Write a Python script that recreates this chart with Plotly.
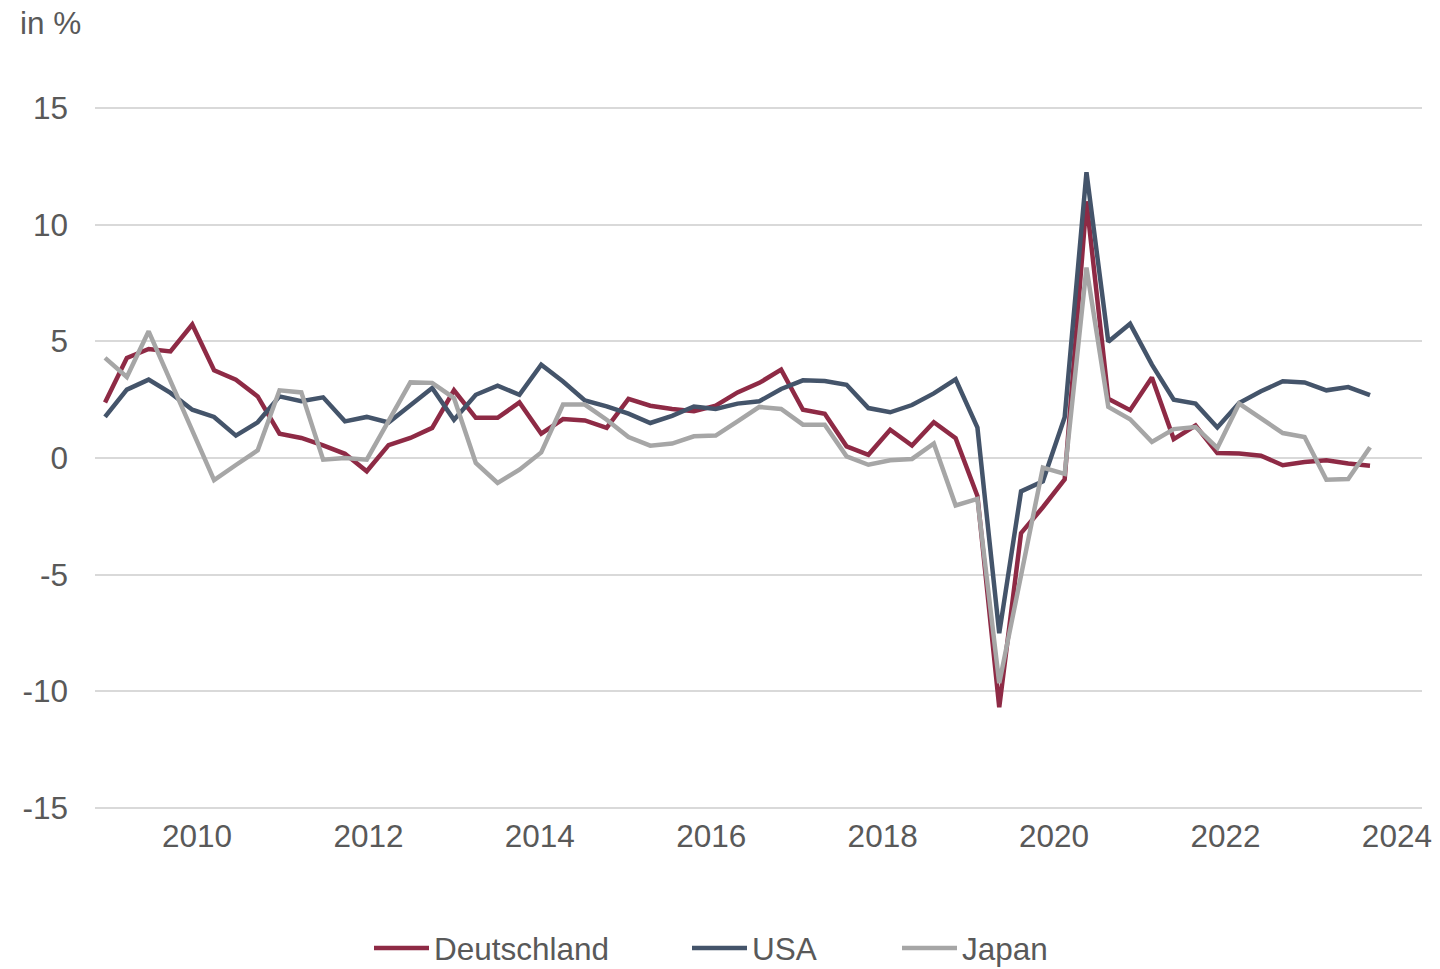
import plotly.graph_objects as go

# Quarterly periods 2010-Q1 .. 2024-Q3
quarters = [f"{y}-Q{q}" for y in range(2010, 2025) for q in range(1, 5)][:59]

deutschland = [2.38, 4.29, 4.67, 4.57, 5.72, 3.76, 3.36, 2.64, 1.04, 0.86,
               0.54, 0.18, -0.57, 0.55, 0.86, 1.29, 2.90, 1.72, 1.72, 2.38,
               1.04, 1.67, 1.61, 1.29, 2.53, 2.24, 2.10, 2.00, 2.24, 2.81,
               3.22, 3.79, 2.07, 1.90, 0.50, 0.14, 1.21, 0.53, 1.53, 0.85,
               -1.63, -10.68, -3.22, -2.11, -0.92, 11.0, 2.54, 2.05, 3.45, 0.81,
               1.39, 0.21, 0.19, 0.10, -0.31, -0.17, -0.10, -0.24, -0.33]

usa = [1.76, 2.93, 3.36, 2.79, 2.07, 1.76, 0.96, 1.53, 2.64, 2.43,
       2.60, 1.57, 1.76, 1.52, 2.26, 3.00, 1.64, 2.71, 3.10, 2.71,
       4.00, 3.28, 2.47, 2.21, 1.90, 1.50, 1.81, 2.21, 2.10, 2.33,
       2.43, 2.96, 3.33, 3.30, 3.14, 2.14, 1.96, 2.27, 2.77, 3.37,
       1.30, -7.51, -1.43, -1.00, 1.75, 12.25, 4.98, 5.75, 4.00, 2.50,
       2.33, 1.31, 2.36, 2.86, 3.29, 3.24, 2.90, 3.04, 2.69]

japan = [4.29, 3.47, 5.43, 3.31, 1.18, -0.95, -0.30, 0.33, 2.90, 2.81,
         -0.07, 0.00, -0.07, 1.60, 3.24, 3.22, 2.57, -0.21, -1.07, -0.50,
         0.24, 2.29, 2.29, 1.64, 0.90, 0.53, 0.62, 0.93, 0.96, 1.57,
         2.19, 2.10, 1.43, 1.43, 0.07, -0.29, -0.10, -0.04, 0.62, -2.03,
         -1.75, -9.65, -5.00, -0.41, -0.68, 8.16, 2.19, 1.66, 0.69, 1.24,
         1.33, 0.43, 2.33, 1.71, 1.07, 0.90, -0.93, -0.90, 0.46]

tick_years = [2010, 2012, 2014, 2016, 2018, 2020, 2022, 2024]
y_ticks = [15, 10, 5, 0, -5, -10, -15]

series = [("Deutschland", deutschland, "#8E2A45", "legend"),
          ("USA", usa, "#44546A", "legend2"),
          ("Japan", japan, "#A6A6A6", "legend3")]

# decimal-year positions for each quarter
xq = [int(s[:4]) + (int(s[-1]) - 1) / 4 for s in quarters]

FONT = "Liberation Sans, Arial, sans-serif"
TXT = "#595959"
FS = 31.5

fig = go.Figure()
for name, vals, col, lg in series:
    fig.add_trace(go.Scatter(x=xq, y=vals, name=name, mode="lines",
                             line=dict(color=col, width=4.5), legend=lg))

# invisible trace on the labelled year axis
fig.add_trace(go.Scatter(x=[tick_years[0]], y=[None], xaxis="x2", showlegend=False,
                         hoverinfo="skip", mode="lines"))

W, H = 1440, 969
L, R, T, B = 95, 18, 105, 158
PH = H - T - B
pw = W - L - R

def lx(px):
    return (px - L) / pw

fig.update_layout(
    width=W, height=H,
    margin=dict(l=L, r=R, t=T, b=B, autoexpand=False),
    paper_bgcolor="white", plot_bgcolor="white",
    font=dict(family=FONT, size=FS, color=TXT),
    xaxis=dict(range=[2009.885, 2025.096], showticklabels=False, showgrid=False,
               zeroline=False, showline=False, ticks=""),
    xaxis2=dict(range=[2008.81, 2024.293], overlaying="x", anchor="y", side="bottom",
                tickvals=tick_years, ticktext=[str(t) for t in tick_years],
                showgrid=False, zeroline=False, showline=False, ticks="",
                tickfont=dict(family=FONT, size=FS, color=TXT), ticklabelstandoff=3),
    yaxis=dict(range=[-15.1286, 15.1286], tickvals=y_ticks, ticktext=[str(v) for v in y_ticks],
               showgrid=True, gridcolor="#D9D9D9", gridwidth=2, zeroline=False,
               showline=False, ticks="", ticklabelstandoff=26,
               tickfont=dict(family=FONT, size=FS, color=TXT)),
    showlegend=True,
    annotations=[dict(text="in %", xref="paper", yref="paper", x=lx(19), y=1 + (T - 23) / PH,
                      xanchor="left", yanchor="middle", showarrow=False, borderpad=0,
                      font=dict(family=FONT, size=FS, color=TXT))],
)

leg_common = dict(orientation="h", yref="paper", y=-(948 - (H - B)) / PH, yanchor="middle",
                  xanchor="left", font=dict(family=FONT, size=FS, color=TXT),
                  bgcolor="rgba(0,0,0,0)", itemwidth=55, tracegroupgap=0)
fig.update_layout(
    legend=dict(x=lx(369), **leg_common),
    legend2=dict(x=lx(687), **leg_common),
    legend3=dict(x=lx(897), **leg_common),
)

# remove the browser's default page margin so the figure sits at (0, 0)
fig.write_html("out.html", config={"displayModeBar": False},
               post_script="document.body.style.margin='0';document.body.style.overflow='hidden';")
